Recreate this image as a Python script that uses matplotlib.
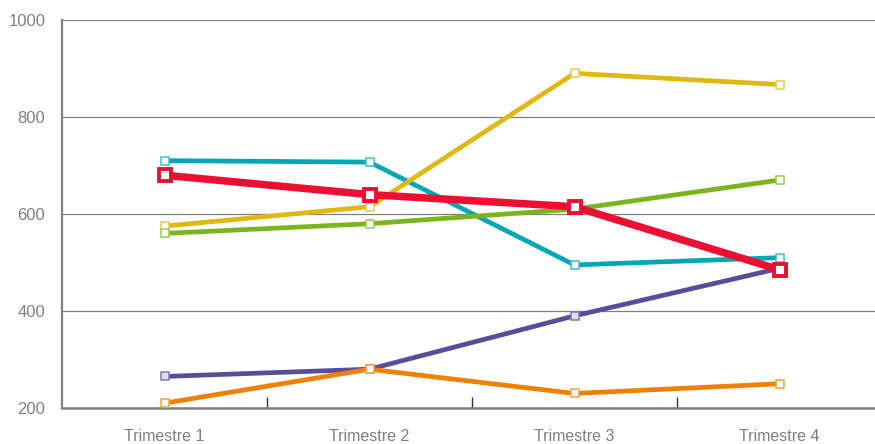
import matplotlib.pyplot as plt
from matplotlib.colors import to_rgb
import numpy as np

plt.rcParams["font.family"] = ["Liberation Sans", "DejaVu Sans"]

quarters = ["Trimestre 1", "Trimestre 2", "Trimestre 3", "Trimestre 4"]

teal = [710, 707, 495, 510]
yellow = [575, 615, 890, 867]
green = [560, 580, 610, 670]
purple = [265, 280, 390, 488]
orange = [210, 280, 230, 250]
red = [680, 640, 615, 485]

# (values, line colour, marker fill)
SERIES = [
    (teal, "#00a8b5", "white"),
    (yellow, "#dfb911", "white"),
    (green, "#7ab51f", "white"),
    (purple, "#5b4c9b", "#dcdbe6"),
    (orange, "#f08100", "white"),
]


def lighten(color, amount):
    r, g, b = to_rgb(color)
    return (r + (1 - r) * amount, g + (1 - g) * amount, b + (1 - b) * amount)


def main() -> None:
    fig = plt.figure(figsize=(8.75, 4.44), dpi=100)
    ax = fig.add_axes([62 / 875, 36 / 444, 820 / 875, 388 / 444])
    x = np.arange(len(quarters))

    for values, color, face in SERIES:
        ax.plot(
            x, values, color=color, linewidth=3.4, solid_capstyle="butt",
            marker="s", markersize=5.2, markerfacecolor=face,
            markeredgecolor=lighten(color, 0.25), markeredgewidth=1.1, zorder=3,
        )
    ax.plot(
        x, red, color="#ec0f31", linewidth=5.4, solid_capstyle="butt",
        marker="s", markersize=8.5, markerfacecolor="white",
        markeredgecolor="#ec0f31", markeredgewidth=2.8, zorder=4,
    )

    ax.set_xlim(-0.5, 3.5)
    ax.set_ylim(200, 1000)
    ax.set_yticks([200, 400, 600, 800, 1000])
    ax.grid(axis="y", color="#808080", linewidth=0.9)
    ax.set_axisbelow(True)

    ax.set_xticks(x)
    ax.set_xticklabels(quarters, fontsize=11.5, color="#7f7f7f")
    ax.set_xticks([0.5, 1.5, 2.5], minor=True)
    ax.tick_params(axis="x", which="major", length=0, pad=15)
    ax.tick_params(axis="x", which="minor", direction="in", length=8, width=1, color="#333333")
    ax.tick_params(axis="y", length=0, pad=12, labelsize=12, labelcolor="#7f7f7f")

    for side in ("top", "right"):
        ax.spines[side].set_visible(False)
    ax.spines["left"].set_color("#808080")
    ax.spines["left"].set_linewidth(1.6)
    ax.spines["bottom"].set_color("#808080")
    ax.spines["bottom"].set_linewidth(1.8)

    fig.savefig("out.png", dpi=100)


if __name__ == "__main__":
    main()
